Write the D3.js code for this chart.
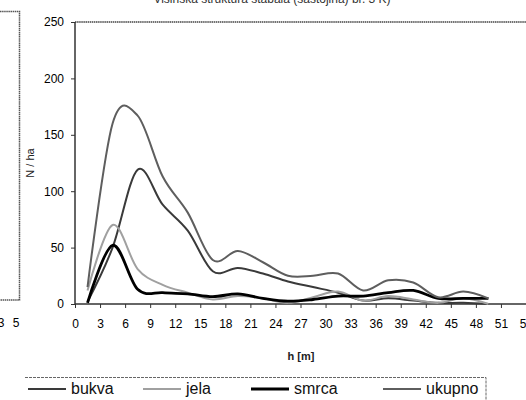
<!DOCTYPE html>
<html><head><meta charset="utf-8">
<script src="https://cdn.jsdelivr.net/npm/d3@7"></script>
<style>
html,body{margin:0;padding:0;background:#fff;}
svg{display:block;font-family:Arial,"Liberation Sans",sans-serif;}
</style></head>
<body>
<svg id="c" width="526" height="400"></svg>
<script>
// ---- data ----
const heights = [1.5, 4.5, 7.5, 10.5, 13.5, 16.5, 19.5, 22.5, 25.5, 28.5, 31.5, 34.5, 37.5, 40.5, 43.5, 46.5, 49.5];
const bukva  = [2, 50, 119, 88, 65, 29, 32, 27, 20, 15, 10, 3, 5, 3, 1, 1, 0];
const jela   = [12, 70, 31, 17, 10, 4, 7, 5, 1, 6, 11, 3, 7, 4, 1, 5, 0];
const smrca  = [1, 52, 13, 10, 9, 6.5, 9, 5, 2.5, 4, 7, 7, 10, 12, 5, 5, 5];
const ukupno = [15, 160, 167, 113, 81, 39, 47, 37, 25, 25, 27, 12, 21, 19, 6, 11, 5];
const xTicks = [0, 3, 6, 9, 12, 15, 18, 21, 24, 27, 30, 33, 36, 39, 42, 45, 48, 51, 54];
const yTicks = [0, 50, 100, 150, 200, 250];
const seriesNames = ["bukva", "jela", "smrca", "ukupno"];
const titleText = "Visinska struktura stabala (sastojina) br. 3 K)";

const styles = {
  bukva:  {color: "#3a3a3a", width: 2},
  jela:   {color: "#a0a0a0", width: 2},
  smrca:  {color: "#000000", width: 2.8},
  ukupno: {color: "#5e5e5e", width: 2}
};
const dataBy = {bukva, jela, smrca, ukupno};

const svg = d3.select("#c");
const x = d3.scaleLinear().domain([0, 54]).range([75, 526]);
const y = d3.scaleLinear().domain([0, 250]).range([304, 22]);

// left neighbouring panel remnant
svg.append("path").attr("d", "M0,11.5H19.5V300H0")
  .attr("fill", "none").attr("stroke", "#555").attr("stroke-width", 1.5)
  .attr("stroke-dasharray", "1.5,0.6");
svg.append("text").attr("x", 1).attr("y", 327).attr("text-anchor", "middle")
  .attr("font-size", 12).text("3");
svg.append("text").attr("x", 16).attr("y", 327).attr("text-anchor", "middle")
  .attr("font-size", 12).text("5");

// title (cut off at top)
svg.append("text").attr("x", 272).attr("y", 3).attr("text-anchor", "middle")
  .attr("font-size", 12).attr("fill", "#333").text(titleText);

// top frame line
svg.append("line").attr("x1", x(0)).attr("x2", 526).attr("y1", y(250)).attr("y2", y(250))
  .attr("stroke", "#444").attr("stroke-width", 1.5).attr("stroke-dasharray", "1.5,0.6");

// axes
const gy = svg.append("g").attr("transform", `translate(${x(0)},0)`)
  .call(d3.axisLeft(y).tickValues(yTicks).tickSize(4).tickPadding(7).tickFormat(d3.format("d")));
const gx = svg.append("g").attr("transform", `translate(0,${y(0)})`)
  .call(d3.axisBottom(x).tickValues(xTicks).tickSize(4).tickPadding(11).tickFormat(d3.format("d")));
[gy, gx].forEach(g => {
  g.select(".domain").attr("stroke", "#333").attr("stroke-width", 1.5);
  g.selectAll(".tick line").attr("stroke", "#333").attr("stroke-width", 1);
  g.selectAll(".tick text").attr("font-size", 12).attr("fill", "#000")
    .attr("font-family", "Arial, 'Liberation Sans', sans-serif");
});
gy.select(".domain").attr("d", `M-0,${y(0)}V${y(250)}`);
gx.select(".domain").attr("d", `M${x(0)},0H526`);

// axis titles
svg.append("text").attr("transform", `translate(34,${(y(0) + y(250)) / 2}) rotate(-90)`)
  .attr("text-anchor", "middle").attr("font-size", 11).attr("fill", "#222").text("N / ha");
svg.append("text").attr("x", 301).attr("y", 360).attr("text-anchor", "middle")
  .attr("font-size", 11).attr("font-weight", "bold").attr("fill", "#222").text("h [m]");

// lines (Excel-like smoothing)
const line = d3.line().x((d, i) => x(heights[i])).y(d => y(d)).curve(d3.curveCatmullRom.alpha(0));
seriesNames.forEach(n => {
  svg.append("path").datum(dataBy[n]).attr("d", line)
    .attr("fill", "none").attr("stroke", styles[n].color).attr("stroke-width", styles[n].width)
    .attr("stroke-linejoin", "round");
});

// legend
const lg = svg.append("g");
lg.append("path").attr("d", "M25,377.5H486V400")
  .attr("fill", "none").attr("stroke", "#666").attr("stroke-width", 1).attr("stroke-dasharray", "3,1");
const legendX = [28, 143, 251, 383];
seriesNames.forEach((n, i) => {
  const lx = legendX[i];
  lg.append("line").attr("x1", lx).attr("x2", lx + 38).attr("y1", 389).attr("y2", 389)
    .attr("stroke", styles[n].color).attr("stroke-width", styles[n].width);
  lg.append("text").attr("x", lx + 43).attr("y", 394).attr("font-size", 16).attr("fill", "#111").text(n);
});
</script>
</body></html>
